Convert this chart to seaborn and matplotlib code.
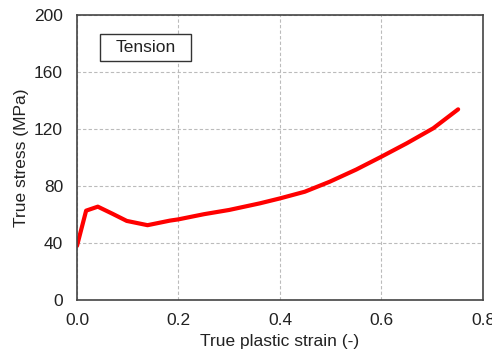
import matplotlib
matplotlib.use("Agg")
import matplotlib.pyplot as plt
import matplotlib.patches as mpatches
import seaborn as sns
import pandas as pd

strain = [0.0, 0.018, 0.041, 0.07, 0.098, 0.139, 0.183, 0.2, 0.25, 0.30, 0.36, 0.40, 0.449, 0.498, 0.55, 0.60, 0.65, 0.702, 0.751]
stress = [38.0, 62.7, 65.5, 60.5, 55.5, 52.5, 55.7, 56.6, 60.2, 63.2, 67.8, 71.3, 76.0, 83.0, 91.5, 100.6, 110.0, 120.5, 133.8]
x_ticks = [0.0, 0.2, 0.4, 0.6, 0.8]
y_ticks = [0, 40, 80, 120, 160, 200]

sns.set_theme(style="white")
plt.rcParams['font.family'] = ['Liberation Sans', 'DejaVu Sans']

df = pd.DataFrame({"strain": strain, "stress": stress})
fig = plt.figure(figsize=(4.92, 3.56), dpi=100)
ax = fig.add_axes([0.1565, 0.1573, 0.8252, 0.8006])
sns.lineplot(data=df, x="strain", y="stress", color="#ff0000", linewidth=3, ax=ax, sort=False)
ax.set_xlim(0, 0.8)
ax.set_ylim(0, 200)
ax.set_xticks(x_ticks)
ax.set_xticklabels([f"{v:.1f}" for v in x_ticks])
ax.set_yticks(y_ticks)
ax.set_yticklabels([str(v) for v in y_ticks])
ax.grid(True, color="#bbbbbb", linestyle=(0, (3, 2)), linewidth=0.8)
ax.tick_params(direction="in", length=4, width=1, color="#333333", labelsize=12.5, labelcolor="#222222")
ax.tick_params(axis="x", pad=9)
ax.tick_params(axis="y", pad=10)
for s in ax.spines.values():
    s.set_color("#444444")
    s.set_linewidth(1.2)
ax.set_xlabel("True plastic strain (-)", fontsize=12.5, color="#222222", labelpad=5)
ax.set_ylabel("True stress (MPa)", fontsize=12.5, color="#222222", labelpad=4)
ax.add_patch(mpatches.Rectangle((0.0567, 0.839), 0.2241, 0.094, transform=ax.transAxes,
                                facecolor="white", edgecolor="#333333", linewidth=1, zorder=5))
ax.text(0.169, 0.886, "Tension", transform=ax.transAxes, fontsize=12.5, color="#222222",
        va="center", ha="center", zorder=6)
fig.savefig("out.png", dpi=100)
